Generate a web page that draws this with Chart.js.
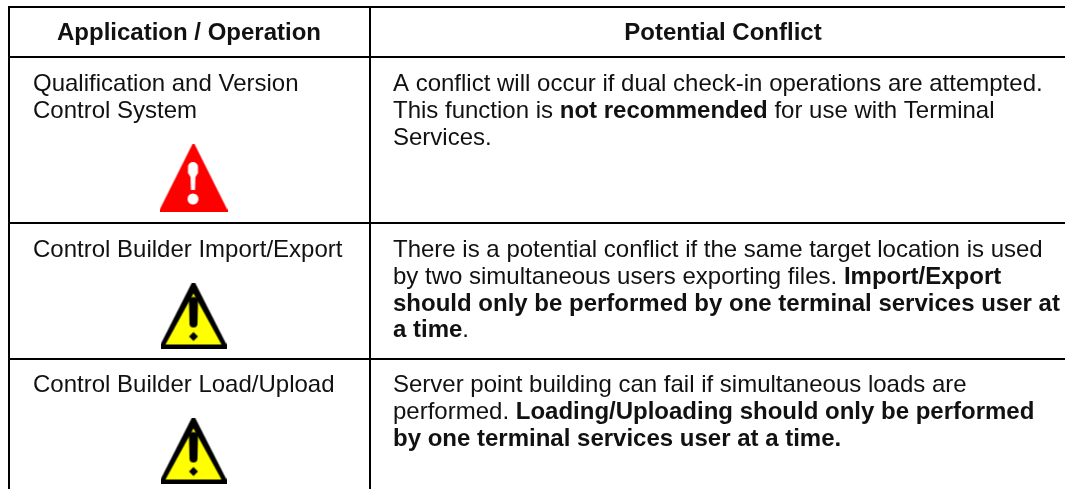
<!DOCTYPE html>
<html><head><meta charset="utf-8">
<style>html,body{margin:0;padding:0;background:#fff}canvas{display:block}</style>
<script src="https://cdn.jsdelivr.net/npm/chart.js@4"></script>
</head><body><canvas id="c" width="1065" height="489"></canvas>
<script>
// ---- content ----
const headers = ["Application / Operation", "Potential Conflict"];
const applications = [
  ["Qualification and Version", "Control System"],
  ["Control Builder Import/Export"],
  ["Control Builder Load/Upload"]
];
const severities = ["danger", "warning", "warning"];
// each line is a list of [text, isBold] runs
const conflicts = [
  [[["A conflict will occur if dual check-in operations are attempted.",0]],
   [["This function is ",0],["not recommended",1],[" for use with Terminal",0]],
   [["Services.",0]]],
  [[["There is a potential conflict if the same target location is used",0]],
   [["by two simultaneous users exporting files. ",0],["Import/Export",1]],
   [["should only be performed by one terminal services user at",1]],
   [["a time",1],[".",0]]],
  [[["Server point building can fail if simultaneous loads are",0]],
   [["performed. ",0],["Loading/Uploading should only be performed",1]],
   [["by one terminal services user at a time.",1]]]
];
// ---- table geometry (in axis units) ----
const rowRules = [7, 57, 223, 359];
const colRules = [9, 370];
const rowTop = [91, 257, 392];
const iconY = [178, 315.5, 450.5];
const iconX = 193.5;

const ink = "#111";
const FONT = '"Liberation Sans", Arial, sans-serif';
const SIZE = 24, LEAD = 26.8;

function makeIcon(kind){
  const c = document.createElement("canvas");
  const k = c.getContext("2d");
  if(kind === "danger"){
    c.width = 68; c.height = 68;
    k.fillStyle = "#fe0000";
    k.beginPath(); k.moveTo(33,0); k.lineTo(35,0); k.lineTo(68,66); k.lineTo(68,68); k.lineTo(0,68); k.lineTo(0,66); k.closePath(); k.fill();
    k.fillStyle = "#fff";
    k.beginPath(); k.moveTo(28.5,23); k.arc(33.5,23,5,Math.PI,0); k.lineTo(38.5,29); k.lineTo(36,33); k.lineTo(35.5,46); k.lineTo(31.5,46); k.lineTo(31,33); k.lineTo(28.5,29); k.closePath(); k.fill();
    k.beginPath(); k.arc(33.5,55,5.5,0,Math.PI*2); k.fill();
  } else {
    c.width = 66; c.height = 66;
    k.fillStyle = "#000";
    k.beginPath(); k.moveTo(31.5,0); k.lineTo(34.5,0); k.lineTo(66,62); k.lineTo(66,66); k.lineTo(0,66); k.lineTo(0,62); k.closePath(); k.fill();
    k.fillStyle = "#ff0";
    k.beginPath(); k.moveTo(33,11); k.lineTo(61,62); k.lineTo(5,62); k.closePath(); k.fill();
    k.fillStyle = "#000";
    k.beginPath(); k.moveTo(28.5,19); k.arc(33,19,4.5,Math.PI,0); k.lineTo(37,41); k.arc(33,41,4,0,Math.PI); k.closePath(); k.fill();
    k.beginPath(); k.moveTo(33,49.5); k.lineTo(37.5,54); k.lineTo(33,58.5); k.lineTo(28.5,54); k.closePath(); k.fill();
  }
  return c;
}

const ruleSets = [
  ...rowRules.map(y => [{x:colRules[0]-1,y},{x:1065,y}]),
  ...colRules.map(x => [{x,y:rowRules[0]-1},{x,y:489}])
];

const tableText = {
  id:"tableText",
  afterDatasetsDraw(chart){
    const {ctx, scales:{x,y}} = chart;
    ctx.save();
    ctx.fillStyle = ink; ctx.textBaseline = "alphabetic"; ctx.textAlign = "left";
    ctx.font = "bold "+SIZE+"px "+FONT;
    const hc = [189, 723];
    headers.forEach((h,i)=>{ const w=ctx.measureText(h).width; ctx.fillText(h, x.getPixelForValue(hc[i])-w/2, y.getPixelForValue(39.5)); });
    ctx.font = SIZE+"px "+FONT;
    applications.forEach((lines,r)=>lines.forEach((t,i)=>ctx.fillText(t, x.getPixelForValue(33), y.getPixelForValue(rowTop[r]+i*LEAD))));
    conflicts.forEach((lines,r)=>lines.forEach((runs,i)=>{
      let px = x.getPixelForValue(393);
      runs.forEach(([t,b])=>{
        ctx.font = (b?"bold ":"")+SIZE+"px "+FONT;
        ctx.fillText(t, px, y.getPixelForValue(rowTop[r]+i*LEAD));
        px += ctx.measureText(t).width;
      });
    }));
    ctx.restore();
  }
};

new Chart(document.getElementById("c"),{
  type:"scatter",
  data:{datasets:[
    ...ruleSets.map(d=>({type:"line",data:d,borderColor:"#000",borderWidth:2,pointRadius:0,fill:false,tension:0})),
    ...severities.map((s,i)=>({data:[{x:iconX,y:iconY[i]}],pointStyle:makeIcon(s),pointRadius:34}))
  ]},
  options:{
    responsive:false,animation:false,
    layout:{padding:0,autoPadding:false},
    plugins:{legend:{display:false},tooltip:{enabled:false},title:{display:false}},
    scales:{
      x:{type:"linear",display:false,min:0,max:1065},
      y:{type:"linear",display:false,min:0,max:489,reverse:true}
    }
  },
  plugins:[tableText]
});
</script></body></html>
